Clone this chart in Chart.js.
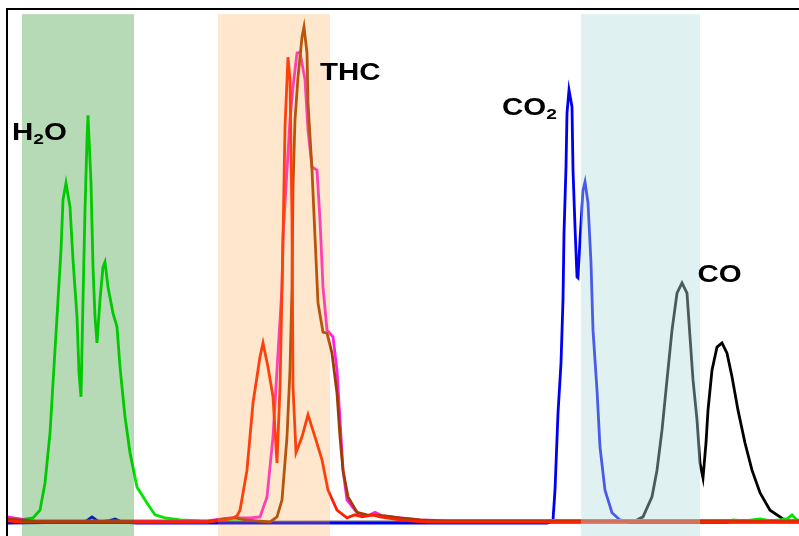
<!DOCTYPE html>
<html>
<head>
<meta charset="utf-8">
<script src="https://cdn.jsdelivr.net/npm/chart.js@4"></script>
<style>
  html, body { margin: 0; padding: 0; background: #fff; }
  canvas { display: block; }
</style>
</head>
<body>
<canvas id="chart" width="799" height="536"></canvas>
<script>
// traces: [time, signal %]
const h2oTrace = [[0,0],[13,0.4],[26,0.8],[33,2.3],[38,7.6],[43,17.3],[46,27.1],[50,40.0],[54,53.0],[56,62.8],[59,66.1],[63,61.4],[66,51.1],[70,40.0],[72,29.0],[74,24.4],[76,43.3],[78,60.8],[80,74.5],[81,79.3],[84,66.1],[86,49.7],[88,40.0],[90,34.9],[93,43.3],[96,49.7],[98,50.7],[101,45.8],[106,40.7],[110,38.0],[113,30.2],[118,20.5],[123,13.5],[130,6.8],[140,3.7],[148,1.4],[158,0.8],[173,0.4],[193,0.2],[250,-0.1],[720,-0.1],[726,0.4],[738,0.2],[753,0.6],[763,0.2],[773,0.4],[780,0.6],[785,1.4],[789,0.6],[792,0.2]];

const co2Trace = [[0,-0.2],[78,0],[85,1.0],[92,0],[101,0.2],[108,0.6],[115,0],[130,-0.2],[540,-0.2],[543,0],[546,0.4],[548,6.2],[551,21.2],[554,31.0],[556,43.3],[557,56.3],[559,69.2],[560,79.7],[562,84.2],[565,80.9],[566,68.6],[568,57.5],[570,47.8],[571,47.6],[573,55.0],[576,64.7],[578,66.3],[581,62.2],[584,50.5],[586,37.4],[590,25.7],[593,14.6],[598,6.2],[605,1.8],[613,0.4],[623,0],[792,0]];

const thcRed = [[0,0.2],[13,0],[200,0],[218,0.4],[226,0.8],[230,1.2],[233,2.3],[240,10.1],[246,23.2],[253,32.2],[256,34.9],[261,30.2],[266,24.4],[270,11.5],[273,26.3],[276,55.0],[278,77.0],[281,90.6],[283,86.2],[285,58.9],[286,26.3],[289,13.5],[295,16.6],[301,20.9],[308,16.6],[315,12.1],[321,6.2],[330,2.3],[340,0.8],[348,1.4],[355,1.0],[366,1.4],[373,1.0],[393,0.4],[403,0.2],[420,0],[792,0]];

const thcMagenta = [[0,1.0],[13,0.6],[23,0.2],[200,0.2],[223,0.8],[243,0.8],[253,1.0],[260,4.9],[266,16.6],[271,32.9],[275,45.8],[276,55.6],[280,68.6],[283,78.4],[286,84.8],[290,91.4],[293,91.6],[298,86.2],[301,76.4],[305,69.2],[310,68.6],[313,58.9],[316,45.8],[320,37.4],[326,36.1],[330,29.6],[333,19.9],[336,10.1],[340,4.3],[348,2.3],[353,1.4],[361,1.2],[368,1.9],[375,1.2],[393,0.8],[413,0.4],[430,0.3],[792,0.3]];

const thcBrown = [[0,0.6],[33,0],[200,0],[218,0.6],[228,0.8],[238,0.4],[263,0],[270,1.0],[275,4.3],[280,16.6],[283,29.6],[285,45.8],[286,65.3],[288,78.4],[291,86.7],[295,94.5],[297,96.5],[300,91.4],[301,81.7],[305,68.6],[308,55.6],[311,42.7],[316,37.0],[320,36.8],[325,32.9],[330,25.1],[333,16.6],[336,10.1],[341,4.9],[350,1.9],[360,1.4],[378,1.2],[393,0.8],[413,0.4],[440,0.1],[792,0.1]];

const coTrace = [[0,-0.1],[613,0],[626,0],[636,1.0],[645,4.9],[650,10.1],[655,17.9],[660,27.7],[665,37.4],[670,44.6],[675,46.6],[680,44.6],[683,36.1],[686,27.7],[690,19.9],[693,11.5],[696,8.6],[699,15.4],[701,21.8],[705,29.6],[710,34.1],[715,34.9],[720,32.9],[725,28.3],[731,21.8],[738,15.4],[745,10.1],[753,5.7],[763,2.3],[776,0.6],[786,0.2],[792,0.1]];

// shaded windows [from, to] on the time axis
const bands = [[15, 127], [211, 323], [574, 693]];
const bandColors = ['rgba(0,128,0,0.29)', 'rgba(250,160,50,0.25)', 'rgba(180,220,220,0.41)'];

// species labels: [text before subscript, subscript, text after, time, signal]
const labels = [
  ['H', '2', 'O', 5, 74.5],
  ['THC', '', '', 313, 86.2],
  ['CO', '2', '', 495, 79.3],
  ['CO', '', '', 690.5, 46.8]
];

const toXY = arr => arr.map(p => ({ x: p[0], y: p[1] }));

const overlay = {
  id: 'overlay',
  afterDatasetsDraw(chart) {
    const { ctx, chartArea, scales } = chart;
    const x = scales.x, y = scales.y;
    ctx.save();
    bands.forEach((b, i) => {
      const x0 = x.getPixelForValue(b[0]);
      const x1 = x.getPixelForValue(b[1]);
      const top = y.getPixelForValue(99);
      ctx.fillStyle = bandColors[i];
      ctx.fillRect(x0, top, x1 - x0, chartArea.bottom - top);
    });

    ctx.fillStyle = '#000';
    labels.forEach(l => {
      const px = x.getPixelForValue(l[3]);
      const py = y.getPixelForValue(l[4]);
      ctx.save();
      ctx.translate(px, py);
      ctx.scale(1.28, 1);
      ctx.textBaseline = 'alphabetic';
      ctx.font = 'bold 23px "Liberation Sans", Arial, sans-serif';
      ctx.fillText(l[0], 0, 0);
      let w = ctx.measureText(l[0]).width;
      if (l[1]) {
        ctx.font = 'bold 15px "Liberation Sans", Arial, sans-serif';
        ctx.fillText(l[1], w, 4);
        w += ctx.measureText(l[1]).width;
      }
      if (l[2]) {
        ctx.font = 'bold 23px "Liberation Sans", Arial, sans-serif';
        ctx.fillText(l[2], w, 0);
      }
      ctx.restore();
    });

    // frame: left and top only
    ctx.strokeStyle = '#000';
    ctx.lineWidth = 2;
    ctx.beginPath();
    ctx.moveTo(chartArea.left, chartArea.bottom);
    ctx.lineTo(chartArea.left, chartArea.top);
    ctx.lineTo(chartArea.right, chartArea.top);
    ctx.stroke();
    ctx.restore();
  }
};

const line = (data, color) => ({
  data: toXY(data),
  borderColor: color,
  borderWidth: 2.8,
  pointRadius: 0,
  tension: 0,
  fill: false
});

new Chart(document.getElementById('chart'), {
  type: 'line',
  data: {
    datasets: [
      line(thcRed, '#ff2000'),
      line(thcBrown, '#a03c00'),
      line(thcMagenta, '#ff20e0'),
      line(co2Trace, '#0000f0'),
      line(h2oTrace, '#00e800'),
      line(coTrace, '#000000')
    ]
  },
  options: {
    responsive: false,
    animation: false,
    devicePixelRatio: 1,
    layout: { padding: { left: 7, top: 9, right: 0, bottom: 0 } },
    plugins: { legend: { display: false }, tooltip: { enabled: false } },
    scales: {
      x: { type: 'linear', min: 0, max: 792, display: false },
      y: { min: -2.73, max: 100, display: false }
    }
  },
  plugins: [overlay]
});
</script>
</body>
</html>
